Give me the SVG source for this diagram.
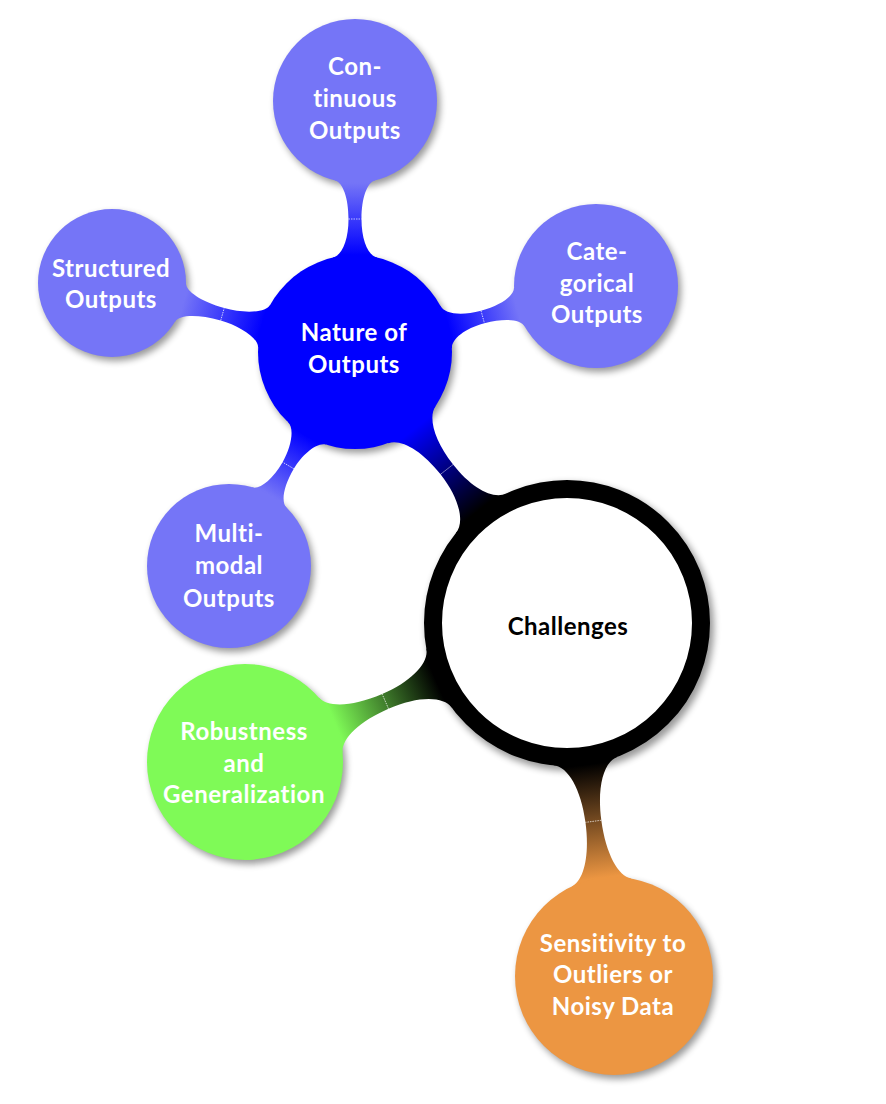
<svg xmlns="http://www.w3.org/2000/svg" width="886" height="1104" viewBox="0 0 886 1104">
<style>
.lbl{font-family:Lato,"Liberation Sans",sans-serif;font-weight:700;font-size:24px;fill:#fff;text-anchor:middle;letter-spacing:0.5px}
.dark{fill:#000}
.l2{fill:#7575f7}
.l1{fill:#0000ff}
.seam{stroke:#fff;stroke-width:0.8;stroke-dasharray:1.5 1;opacity:0.85}
</style>
<defs>
<filter id="blur" x="-20%" y="-20%" width="140%" height="140%"><feGaussianBlur stdDeviation="3.5"/></filter>
<linearGradient id="g1" gradientUnits="userSpaceOnUse" x1="143" y1="0" x2="247" y2="0"><stop offset="0" stop-color="#000"/><stop offset="1" stop-color="#0000ff"/></linearGradient>
<linearGradient id="g2" gradientUnits="userSpaceOnUse" x1="143" y1="0" x2="252.7" y2="0"><stop offset="0" stop-color="#000"/><stop offset="1" stop-color="#7ffa57"/></linearGradient>
<linearGradient id="g3" gradientUnits="userSpaceOnUse" x1="143" y1="0" x2="257.1" y2="0"><stop offset="0" stop-color="#000"/><stop offset="1" stop-color="#ec9642"/></linearGradient>
<linearGradient id="g4" gradientUnits="userSpaceOnUse" x1="97" y1="0" x2="169" y2="0"><stop offset="0" stop-color="#0000ff"/><stop offset="1" stop-color="#7575f7"/></linearGradient>
<linearGradient id="g5" gradientUnits="userSpaceOnUse" x1="97" y1="0" x2="167.9" y2="0"><stop offset="0" stop-color="#0000ff"/><stop offset="1" stop-color="#7575f7"/></linearGradient>
<linearGradient id="g6" gradientUnits="userSpaceOnUse" x1="97" y1="0" x2="178.6" y2="0"><stop offset="0" stop-color="#0000ff"/><stop offset="1" stop-color="#7575f7"/></linearGradient>
<linearGradient id="g7" gradientUnits="userSpaceOnUse" x1="97" y1="0" x2="166.3" y2="0"><stop offset="0" stop-color="#0000ff"/><stop offset="1" stop-color="#7575f7"/></linearGradient>
</defs>
<rect width="886" height="1104" fill="#fff"/>
<g id="shadows" filter="url(#blur)" fill="#000" opacity="0.4">
<circle cx="570" cy="627" r="144"/>
<circle cx="358" cy="356" r="97"/>
<circle cx="358" cy="105" r="82"/>
<circle cx="599" cy="290" r="82"/>
<circle cx="115" cy="287" r="74"/>
<circle cx="232" cy="570" r="82"/>
<circle cx="248" cy="766" r="98"/>
<circle cx="617" cy="980" r="99"/>
</g>
<g id="connectors">
<g transform="translate(567,623) rotate(-128.04)">
<path fill="url(#g1)" d="M139.37,-32 C142.59,-17.97 164.4,-8 195.04,-8 C226.2,-8 247.74,-17.45 251.82,-30 L344,0 L251.82,30 C247.74,17.45 226.2,8 195.04,8 C164.4,8 142.59,17.97 139.37,32 L0,0 Z"/>
<line class="seam" x1="195.04" y1="-8" x2="195.04" y2="8"/>
</g>
<g transform="translate(567,623) rotate(156.65)">
<path fill="url(#g2)" d="M139.37,-32 C142.59,-17.97 165.69,-8 197.86,-8 C230.62,-8 253.38,-17.43 257.42,-30 L350.72,0 L257.42,30 C253.38,17.43 230.62,8 197.86,8 C165.69,8 142.59,17.97 139.37,32 L0,0 Z"/>
<line class="seam" x1="197.86" y1="-8" x2="197.86" y2="8"/>
</g>
<g transform="translate(567,623) rotate(82.42)">
<path fill="url(#g3)" d="M139.37,-32 C142.59,-17.97 166.68,-8 200.06,-8 C234,-8 257.77,-17.42 261.77,-30 L356.12,0 L261.77,30 C257.77,17.42 234,8 200.06,8 C166.68,8 142.59,17.97 139.37,32 L0,0 Z"/>
<line class="seam" x1="200.06" y1="-8" x2="200.06" y2="8"/>
</g>
<g transform="translate(355,352) rotate(-90)">
<path fill="url(#g4)" d="M94.48,-22 C96.59,-12.94 111.81,-6.5 133,-6.5 C154.16,-6.5 169.5,-12.14 171.48,-20 L251,0 L171.48,20 C169.5,12.14 154.16,6.5 133,6.5 C111.81,6.5 96.59,12.94 94.48,22 L0,0 Z"/>
<line class="seam" x1="133" y1="-6.5" x2="133" y2="6.5"/>
</g>
<g transform="translate(355,352) rotate(-15.32)">
<path fill="url(#g5)" d="M94.48,-22 C96.59,-12.94 111.56,-6.5 132.44,-6.5 C153.29,-6.5 168.37,-12.14 170.35,-20 L249.87,0 L170.35,20 C168.37,12.14 153.29,6.5 132.44,6.5 C111.56,6.5 96.59,12.94 94.48,22 L0,0 Z"/>
<line class="seam" x1="132.44" y1="-6.5" x2="132.44" y2="6.5"/>
</g>
<g transform="translate(355,352) rotate(-164.15)">
<path fill="url(#g6)" d="M94.48,-22 C96.59,-12.94 118.63,-6.5 137.8,-6.5 C161.76,-6.5 179.17,-12.2 181.36,-20 L252.61,0 L181.36,20 C179.17,12.2 161.76,6.5 137.8,6.5 C118.63,6.5 96.59,12.94 94.48,22 L0,0 Z"/>
<line class="seam" x1="137.8" y1="-6.5" x2="137.8" y2="6.5"/>
</g>
<g transform="translate(355,352) rotate(120.49)">
<path fill="url(#g7)" d="M94.48,-22 C96.59,-12.94 114.93,-6.5 131.67,-6.5 C152.1,-6.5 166.84,-12.14 168.82,-20 L248.34,0 L168.82,20 C166.84,12.14 152.1,6.5 131.67,6.5 C114.93,6.5 96.59,12.94 94.48,22 L0,0 Z"/>
<line class="seam" x1="131.67" y1="-6.5" x2="131.67" y2="6.5"/>
</g>
</g>
<g id="challenges">
<circle cx="567" cy="623" r="134" fill="#fff" stroke="#000" stroke-width="18"/>
<text class="lbl dark" x="568" y="635">Challenges</text>
</g>
<g id="nature">
<circle class="l1" cx="355" cy="352" r="97"/>
<text class="lbl"><tspan x="354" y="341">Nature of</tspan><tspan x="354" y="373">Outputs</tspan></text>
</g>
<g id="continuous">
<circle class="l2" cx="355" cy="101" r="82"/>
<text class="lbl"><tspan x="355" y="75">Con-</tspan><tspan x="355" y="107">tinuous</tspan><tspan x="355" y="139">Outputs</tspan></text>
</g>
<g id="categorical">
<circle class="l2" cx="596" cy="286" r="82"/>
<text class="lbl"><tspan x="597" y="260">Cate-</tspan><tspan x="597" y="292">gorical</tspan><tspan x="597" y="323">Outputs</tspan></text>
</g>
<g id="structured">
<circle class="l2" cx="112" cy="283" r="74"/>
<text class="lbl"><tspan x="111" y="277">Structured</tspan><tspan x="111" y="308">Outputs</tspan></text>
</g>
<g id="multimodal">
<circle class="l2" cx="229" cy="566" r="82"/>
<text class="lbl"><tspan x="229" y="542">Multi-</tspan><tspan x="229" y="574">modal</tspan><tspan x="229" y="607">Outputs</tspan></text>
</g>
<g id="robustness">
<circle cx="245" cy="762" r="98" fill="#7ffa57"/>
<text class="lbl"><tspan x="244" y="740">Robustness</tspan><tspan x="244" y="772">and</tspan><tspan x="244" y="803">Generalization</tspan></text>
</g>
<g id="sensitivity">
<circle cx="614" cy="976" r="99" fill="#ec9642"/>
<text class="lbl"><tspan x="613" y="952">Sensitivity to</tspan><tspan x="613" y="983">Outliers or</tspan><tspan x="613" y="1015">Noisy Data</tspan></text>
</g>
</svg>
